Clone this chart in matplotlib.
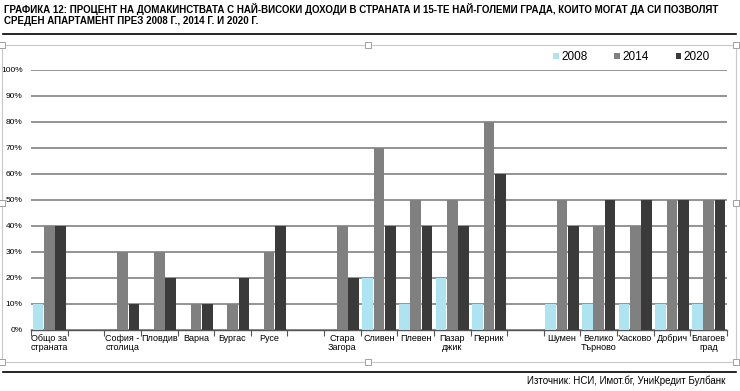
import matplotlib.pyplot as plt
import numpy as np
from matplotlib.patches import Rectangle
from matplotlib.lines import Line2D

# data (share of households, 0..1)
categories = ['Общо за\nстраната', '', 'София -\nстолица', 'Пловдив', 'Варна', 'Бургас', 'Русе', '',
              'Стара\nЗагора', 'Сливен', 'Плевен', 'Пазар\nджик', 'Перник', '',
              'Шумен', 'Велико\nТърново', 'Хасково', 'Добрич', 'Благоев\nград']
v2008 = [0.10, 0, 0, 0, 0, 0, 0, 0, 0, 0.20, 0.10, 0.20, 0.10, 0, 0.10, 0.10, 0.10, 0.10, 0.10]
v2014 = [0.40, 0, 0.30, 0.30, 0.10, 0.10, 0.30, 0, 0.40, 0.70, 0.50, 0.50, 0.80, 0, 0.50, 0.40, 0.40, 0.50, 0.50]
v2020 = [0.40, 0, 0.10, 0.20, 0.10, 0.20, 0.40, 0, 0.20, 0.40, 0.40, 0.40, 0.60, 0, 0.40, 0.50, 0.50, 0.50, 0.50]
series_names = ['2008', '2014', '2020']
colors = ['#AEE4F2', '#808080', '#3A3A3A']

W, H = 740, 391
fig = plt.figure(figsize=(W / 100, H / 100), dpi=100)
fig.patch.set_facecolor('white')

font = ['Liberation Sans Narrow', 'Liberation Sans', 'DejaVu Sans']

# title
fig.text(4 / W, 1 - 9 / H, 'ГРАФИКА 12: ПРОЦЕНТ НА ДОМАКИНСТВАТА С НАЙ-ВИСОКИ ДОХОДИ В СТРАНАТА И 15-ТЕ НАЙ-ГОЛЕМИ ГРАДА, КОИТО МОГАТ ДА СИ ПОЗВОЛЯТ',
         family=font, fontsize=7.0, fontweight='bold', va='center', ha='left')
fig.text(4 / W, 1 - 21 / H, 'СРЕДЕН АПАРТАМЕНТ ПРЕЗ 2008 Г., 2014 Г. И 2020 Г.',
         family=font, fontsize=7.0, fontweight='bold', va='center', ha='left')

# separator lines
fig.add_artist(Line2D([3 / W, 736 / W], [1 - 34 / H, 1 - 34 / H], color='black', lw=1.2))
fig.add_artist(Line2D([3 / W, 736 / W], [1 - 372 / H, 1 - 372 / H], color='black', lw=1.2))

# chart frame with selection handles
fig.add_artist(Rectangle((2 / W, 1 - 362 / H), 734 / W, 317 / H, fill=False,
                         edgecolor='#C8C8C8', lw=0.8))
for hx, hy in [(2, 45), (368, 45), (736, 45), (2, 203), (736, 203), (2, 362), (368, 362), (736, 362)]:
    fig.add_artist(Rectangle(((hx - 3) / W, 1 - (hy + 3) / H), 6 / W, 6 / H,
                             facecolor='white', edgecolor='#A0A0A0', lw=0.7))

# plot
ax = fig.add_axes([31 / W, 1 - 330 / H, 696 / W, 260 / H])
x = np.arange(len(categories))
width = 0.29
offs = [-0.31, 0, 0.31]
for vals, off, c, name in zip([v2008, v2014, v2020], offs, colors, series_names):
    ax.bar(x + off, vals, width, color=c, label=name, zorder=3)

ax.set_xlim(-0.5, len(categories) - 0.5)
ax.set_ylim(0, 1)
ax.set_yticks(np.arange(0, 1.01, 0.1))
ax.set_yticklabels([f'{int(round(t * 100))}%' for t in np.arange(0, 1.01, 0.1)], family=font, fontsize=6)
ax.yaxis.grid(True, color='#777777', lw=1.1, zorder=0)
ax.tick_params(axis='y', length=0, pad=6)

ax.set_xticks(x)
ax.set_xticklabels(categories, family=font, fontsize=6.5, linespacing=1.0)
ax.set_xticks(np.arange(-0.5, len(categories), 1), minor=True)
ax.tick_params(axis='x', which='major', length=0, pad=3)
ax.tick_params(axis='x', which='minor', length=4, color='#555555', width=0.8)
for s in ['top', 'right', 'left']:
    ax.spines[s].set_visible(False)
ax.spines['bottom'].set_color('#555555')
ax.spines['bottom'].set_linewidth(1.0)

leg = ax.legend(loc='lower right', bbox_to_anchor=(0.985, 1.0), ncol=3, frameon=False,
                prop={'family': font, 'size': 8.5}, handlelength=0.45, handleheight=0.45,
                handletextpad=0.2, columnspacing=2.3, borderaxespad=0.2)

# source
fig.text(725 / W, 1 - 381 / H, 'Източник: НСИ, Имот.бг, УниКредит Булбанк',
         family=font, fontsize=7, ha='right', va='center')

fig.savefig('out.png', dpi=100)
